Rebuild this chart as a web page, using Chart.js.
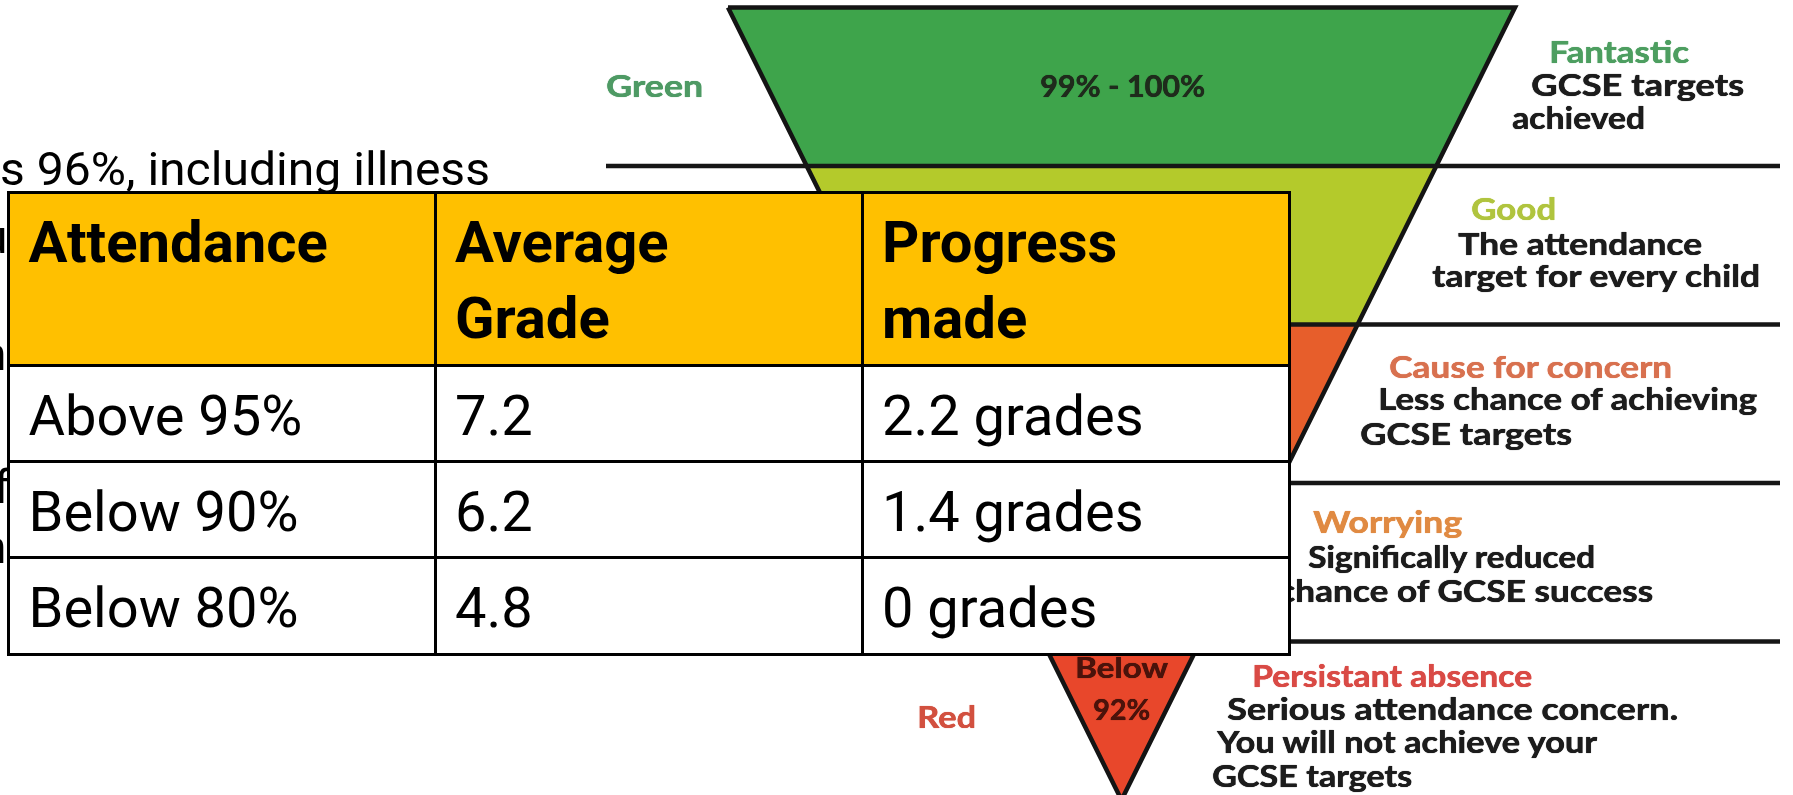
<!DOCTYPE html>
<html>
<head>
<meta charset="utf-8">
<script src="https://cdn.jsdelivr.net/npm/chart.js@4/dist/chart.umd.min.js"></script>
<style>
html,body{margin:0;padding:0;background:#fff;overflow:hidden;}
#wrap{position:relative;width:1793px;height:795px;overflow:hidden;background:#fff;}
#c{position:absolute;left:0;top:0;z-index:0;}
.t{position:absolute;white-space:nowrap;line-height:normal;transform-origin:0 0;z-index:1;}
.fl{font-family:Lato,"Open Sans","DejaVu Sans",sans-serif;font-weight:700;font-size:30px;color:#1c1c1c;
    text-shadow:0 0 0.8px currentColor, 0.4px 0 0 currentColor;}
.fl.big{font-size:31px;}
.fl.mid{font-size:28px;}
.sl{font-family:Roboto,"Noto Sans",sans-serif;font-size:46px;color:#000;}
.hd{font-family:Roboto,"Noto Sans",sans-serif;font-weight:700;font-size:58px;color:#000;z-index:4;}
.bd{font-family:Roboto,"Noto Sans",sans-serif;font-weight:400;font-size:56px;color:#000;z-index:4;}
.tb{position:absolute;z-index:3;}
</style>
</head>
<body>
<div id="wrap">
  <canvas id="c" width="1793" height="795"></canvas>
</div>
<script>
// ---------------- DATA ----------------
const bandBoundaries = [0, 1, 2, 3, 4, 5];            // funnel levels, widest (top) to apex
const bandNames = ['Green', '', '', '', 'Red'];
const bandRanges = [['99% - 100%'], [], [], [], ['Below', '92%']];
const bandHeadings = ['Fantastic', 'Good', 'Cause for concern', 'Worrying', 'Persistant absence'];
const bandNotes = [
  ['GCSE targets', 'achieved'],
  ['The attendance', 'target for every child'],
  ['Less chance of achieving', 'GCSE targets'],
  ['Significally reduced', 'chance of GCSE success'],
  ['Serious attendance concern.', 'You will not achieve your', 'GCSE targets']
];
const tableHeaders = [['Attendance'], ['Average', 'Grade'], ['Progress', 'made']];
const attendanceRows = ['Above 95%', 'Below 90%', 'Below 80%'];
const averageGrades = [7.2, 6.2, 4.8];
const progressGrades = [2.2, 1.4, 0];
const slideText = 's 96%, including illness';
const hiddenSlideFragments = ['u', 'n', 'f', 'n'];

// ---------------- STYLE / LAYOUT ----------------
const bandColors = ['#3ea44b', '#b4ca2b', '#e75e2b', '#ee7a30', '#e8472b'];
const headingColors = ['#4d9e60', '#b0c43e', '#d8714f', '#e08a42', '#d94a45'];
const nameColors = ['#4e9a64', '', '', '', '#d2503f'];
const rangeColors = ['#1f2b1c', '', '', '', '#4a130b'];
const FUN = {cx: 1121.5, halfTop: 393.5, topPx: 7.5, bandPx: 158.5, divL: 606, divR: 1780, W: 1793, H: 795};

const LBL = {
  names: [[606, 97, 97], null, null, null, [917, 728, 59]],
  ranges: [[[1040, 97, 165]], [], [], [], [[1075, 678, 93], [1093, 720, 57]]],
  headings: [[1549, 63, 140], [1471, 220, 85], [1389, 378, 283], [1313, 533, 149], [1252, 687, 280]],
  notes: [
    [[1531, 96, 213], [1512, 129, 133]],
    [[1458, 255, 244], [1432, 287, 328]],
    [[1378, 410, 379], [1360, 445, 212]],
    [[1308, 568, 287], [1278, 602, 375]],
    [[1227, 720, 451], [1217, 753, 380], [1212, 787, 200]]
  ]
};
const TBL = {cols: [8.5, 435, 862, 1289], rows: [192, 365, 461, 557, 654], pad: 20, base: 70, line2: 76, border: 3, head: '#FFC000'};

// ---------------- FUNNEL (Chart.js) ----------------
const apex = bandBoundaries[bandBoundaries.length - 1];
const hw = v => FUN.halfTop * (apex - v) / apex;
const datasets = [];
for (let i = 0; i < bandBoundaries.length - 1; i++) {
  const a = bandBoundaries[i], b = bandBoundaries[i + 1];
  const pts = [
    {x: FUN.cx - hw(a), y: a}, {x: FUN.cx + hw(a), y: a},
    {x: FUN.cx + hw(b), y: b}, {x: FUN.cx - hw(b), y: b},
    {x: FUN.cx - hw(a), y: a}
  ];
  datasets.push({data: pts, showLine: true, fill: 'shape', backgroundColor: bandColors[i],
    borderWidth: 0, borderColor: bandColors[i], pointRadius: 0, tension: 0, order: 5});
}
datasets.push({data: [
    {x: FUN.cx - hw(0), y: 0}, {x: FUN.cx + hw(0), y: 0}, {x: FUN.cx, y: apex}, {x: FUN.cx - hw(0), y: 0}
  ], showLine: true, fill: false, borderColor: '#141414', borderWidth: 4.5, pointRadius: 0,
  tension: 0, borderJoinStyle: 'miter', order: 1});
bandBoundaries.slice(1, -1).forEach(v => {
  datasets.push({data: [{x: FUN.divL, y: v}, {x: FUN.divR, y: v}], showLine: true, fill: false,
    borderColor: '#161616', borderWidth: 4.5, pointRadius: 0, order: 0});
});

new Chart(document.getElementById('c'), {
  type: 'scatter',
  data: {datasets},
  options: {
    responsive: false, animation: false, devicePixelRatio: 1,
    layout: {padding: 0},
    plugins: {legend: {display: false}, tooltip: {enabled: false}, title: {display: false}},
    events: [],
    scales: {
      x: {type: 'linear', display: false, min: 0, max: FUN.W},
      y: {type: 'linear', display: false, reverse: true,
          min: -FUN.topPx / FUN.bandPx, max: (FUN.H - FUN.topPx) / FUN.bandPx}
    }
  }
});

// ---------------- TEXT ----------------
const wrap = document.getElementById('wrap');
const items = [];
function place(text, cls, x, baseline, width, color) {
  const el = document.createElement('div');
  el.className = 't ' + cls;
  const s = document.createElement('span');
  s.textContent = text;
  const m = document.createElement('i');
  m.style.cssText = 'display:inline-block;width:0;height:0;';
  el.appendChild(s); el.appendChild(m);
  el.style.left = x + 'px';
  if (color) el.style.color = color;
  wrap.appendChild(el);
  items.push({el, s, m, baseline, width});
}
function layoutAll() {
  items.forEach(it => {
    it.el.style.transform = 'none';
    it.el.style.top = '0px';
    const bt = it.m.offsetTop;
    it.el.style.top = (it.baseline - bt) + 'px';
    if (it.width) {
      const w = it.s.getBoundingClientRect().width;
      if (w > 0) it.el.style.transform = 'scaleX(' + (it.width / w) + ')';
    }
  });
}

// slide text behind the table
place(slideText, 'sl', 0, 185, 490);
[[-18, 253], [-19, 370], [-6, 503], [-19, 563]].forEach((p, i) =>
  place(hiddenSlideFragments[i], 'sl', p[0], p[1], null));

// funnel labels
bandNames.forEach((n, i) => { if (n && LBL.names[i]) place(n, 'fl big', LBL.names[i][0], LBL.names[i][1], LBL.names[i][2], nameColors[i]); });
bandRanges.forEach((lines, i) => lines.forEach((t, j) => {
  const p = LBL.ranges[i][j];
  place(t, i === 0 ? 'fl big' : 'fl mid', p[0], p[1], p[2], rangeColors[i]);
}));
bandHeadings.forEach((h, i) => place(h, 'fl', LBL.headings[i][0], LBL.headings[i][1], LBL.headings[i][2], headingColors[i]));
bandNotes.forEach((lines, i) => lines.forEach((t, j) => {
  const p = LBL.notes[i][j];
  place(t, 'fl', p[0], p[1], p[2], '#1c1c1c');
}));

// table
function box(l, t, w, h, bg) {
  const d = document.createElement('div');
  d.className = 'tb';
  d.style.cssText += `left:${l}px;top:${t}px;width:${w}px;height:${h}px;background:${bg};`;
  wrap.appendChild(d);
}
const c = TBL.cols, r = TBL.rows, B = TBL.border;
box(c[0], r[0], c[3] - c[0], r[1] - r[0], TBL.head);
box(c[0], r[1], c[3] - c[0], r[4] - r[1], '#ffffff');
c.forEach(x => box(x - B / 2, r[0] - B / 2, B, r[4] - r[0] + B, '#000'));
r.forEach(y => box(c[0] - B / 2, y - B / 2, c[3] - c[0] + B, B, '#000'));

tableHeaders.forEach((lines, ci) => lines.forEach((t, li) =>
  place(t, 'hd', c[ci] + TBL.pad, r[0] + TBL.base + li * TBL.line2, null)));
attendanceRows.forEach((t, ri) => {
  const y = r[ri + 1] + TBL.base;
  place(t, 'bd', c[0] + TBL.pad, y, null);
  place(String(averageGrades[ri]), 'bd', c[1] + TBL.pad, y, null);
  place(progressGrades[ri] + ' grades', 'bd', c[2] + TBL.pad, y, null);
});

layoutAll();
if (document.fonts && document.fonts.ready) document.fonts.ready.then(layoutAll);
</script>
</body>
</html>
